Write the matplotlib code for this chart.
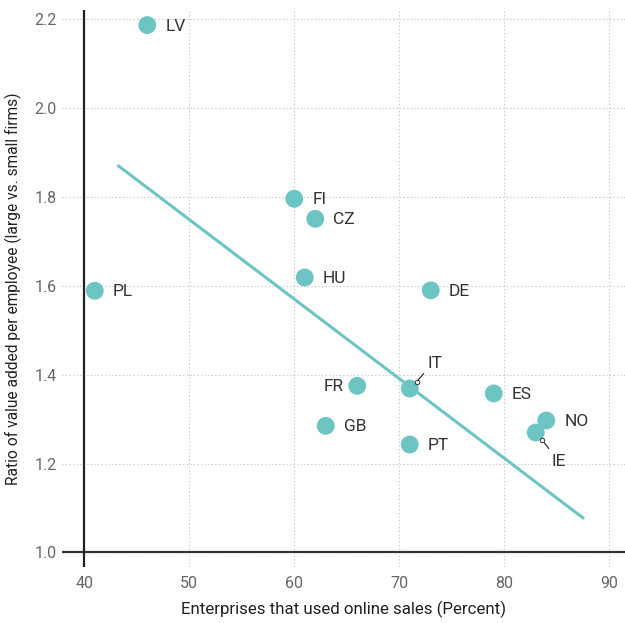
import matplotlib
matplotlib.use("Agg")
import matplotlib.pyplot as plt
import matplotlib.transforms as mtrans
from matplotlib import font_manager

countries = ["LV", "PL", "FI", "CZ", "HU", "DE", "FR", "IT", "GB", "PT", "ES", "NO", "IE"]
online_sales = [46.0, 41.0, 60.0, 62.0, 61.0, 73.0, 66.0, 71.0, 63.0, 71.0, 79.0, 84.0, 83.0]
ratio = [2.187, 1.589, 1.796, 1.751, 1.619, 1.590, 1.375, 1.369, 1.285, 1.243, 1.358, 1.297, 1.270]
trend_x = [43.15, 87.6]
trend_y = [1.872, 1.076]
x_ticks = [40, 50, 60, 70, 80, 90]
y_ticks = [1.0, 1.2, 1.4, 1.6, 1.8, 2.0, 2.2]

names = {f.name for f in font_manager.fontManager.ttflist}
fam = "Liberation Sans Narrow" if "Liberation Sans Narrow" in names else "Roboto"
plt.rcParams["font.family"] = [fam, "DejaVu Sans"]

teal = "#6cc5c2"
dark = "#333333"
fig = plt.figure(figsize=(6.25, 6.23), dpi=100)
ax = fig.add_axes([0.0992, 0.0904, 0.9008, 0.8936])
ax.set_xlim(37.88, 91.5)
ax.set_ylim(0.968, 2.221)
for s in ax.spines.values():
    s.set_visible(False)

ax.set_xticks(x_ticks)
ax.set_yticks(y_ticks)
ax.set_xticklabels([str(v) for v in x_ticks])
ax.set_yticklabels([f"{v:.1f}" for v in y_ticks])
ax.tick_params(axis="both", length=0, labelsize=11.5, labelcolor="#666666")
ax.tick_params(axis="x", pad=7)
ax.tick_params(axis="y", pad=4)
ax.grid(True, linestyle=(0, (1, 2.2)), color="#bdbdbd", linewidth=0.8)
ax.set_axisbelow(True)

ax.axhline(1.0, color="#333333", lw=1.6, zorder=2)
ax.axvline(40, color="#222222", lw=1.6, zorder=2)

ax.plot(trend_x, trend_y, color=teal, lw=2.2, zorder=3, solid_capstyle="butt")
ax.scatter(online_sales, ratio, s=165, color=teal, edgecolor="none", zorder=4)


def px(dx, dy):
    return mtrans.offset_copy(ax.transData, fig=fig, x=dx, y=dy, units="dots")


# leader-line label layouts in pixels: (circle dx, dy), (line end dx, dy), (text dx, dy)
leaders = {"IT": ((7, 7), (14, 15), (18, 25)),
           "IE": ((6, -7), (13, -16), (16, -29))}
side = {"FR": (-14, "right")}
fs = 12.5
for c, x, y in zip(countries, online_sales, ratio):
    if c in leaders:
        (cx, cy), (ex, ey), (tx, ty) = leaders[c]
        line_tr = mtrans.offset_copy(ax.transData, fig=fig, x=0, y=0, units="dots")
        ax.annotate("", xy=(x, y), xycoords=px(cx, cy), xytext=(x, y), textcoords=px(ex, ey),
                    arrowprops=dict(arrowstyle="-", color=dark, lw=0.9, shrinkA=0, shrinkB=0), zorder=6)
        ax.plot([x], [y], transform=px(cx, cy), marker="o", ms=3.2, mfc="white",
                mec=dark, mew=0.7, zorder=7)
        ax.text(x, y, c, transform=px(tx, ty), fontsize=fs, color=dark, ha="left", va="center", zorder=6)
    else:
        dx, ha = side.get(c, (18, "left"))
        ax.text(x, y, c, transform=px(dx, -1), fontsize=fs, color=dark, ha=ha, va="center", zorder=6)

ax.set_xlabel("Enterprises that used online sales (Percent)", fontsize=12.2, color="#222222", labelpad=7)
ax.set_ylabel("Ratio of value added per employee (large vs. small firms)", fontsize=11.2,
              color="#222222", labelpad=9)

fig.savefig("out.png", dpi=100)
